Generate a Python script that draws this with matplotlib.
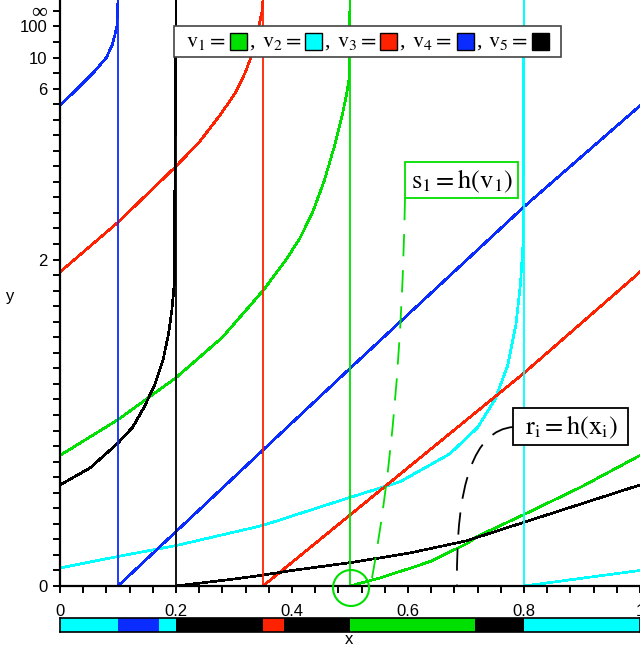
import numpy as np
import matplotlib.pyplot as plt
import matplotlib.transforms as mtransforms
from matplotlib.patches import Rectangle, Circle, PathPatch
from matplotlib.path import Path

plt.rcParams['mathtext.fontset'] = 'stix'
plt.rcParams['font.family'] = ['Liberation Sans', 'DejaVu Sans']
plt.rcParams['lines.scale_dashes'] = False

W, H = 640, 652

# nodes on the ring [0, 1)
node_x = [0.5, 0.8, 0.35, 0.1, 0.2]
node_colors = ['#00e000', '#00ffff', '#ff2200', '#0a2cff', '#000000']

# y values are in tick steps of the compressed y axis (37 steps = infinity)
TOP = 37.7

# v1 (green)
g_x = [0.5, 0.55, 0.6, 0.64, 0.7, 0.72, 0.8, 0.9, 1.0, 1.0,
       0.0, 0.1, 0.2, 0.28, 0.35, 0.39, 0.414, 0.435, 0.455, 0.474, 0.486, 0.494, 0.498, 0.5]
g_y = [0.0, 0.5, 1.1, 1.6, 2.7, 3.2, 4.6, 6.4, 8.4, np.nan,
       8.4, 10.7, 13.4, 16.0, 19.0, 21.0, 22.4, 24.0, 26.0, 28.4, 30.2, 31.6, 32.5, TOP]
# v2 (cyan)
c_x = [0.8, 0.9, 1.0, 1.0,
       0.0, 0.1, 0.2, 0.35, 0.5, 0.586, 0.672, 0.72, 0.75, 0.772, 0.786, 0.794, 0.798, 0.8]
c_y = [0.0, 0.5, 1.0, np.nan,
       1.16, 1.9, 2.6, 3.9, 5.7, 6.7, 8.5, 10.2, 12.0, 14.2, 16.8, 19.5, 21.8, TOP]
# v3 (red)
r_x = [0.35, 0.8, 1.0, 1.0,
       0.0, 0.1, 0.2, 0.241, 0.276, 0.302, 0.319, 0.333, 0.341, 0.348, 0.35]
r_y = [0.0, 13.7, 20.2, np.nan,
       20.2, 23.4, 27.0, 28.6, 30.3, 31.7, 33.0, 34.4, 35.7, 36.9, TOP]
# v4 (blue)
b_x = [0.1, 0.5, 0.8, 1.0, 1.0, 0.0, 0.057, 0.08, 0.09, 0.095, 0.098, 0.1]
b_y = [0.0, 14.0, 24.4, 30.9, np.nan, 30.9, 33.0, 34.0, 34.8, 35.5, 36.0, TOP]
# v5 (black)
k_x = [0.2, 0.3, 0.35, 0.4, 0.5, 0.6, 0.7, 0.8, 0.9, 1.0, 1.0,
       0.0, 0.052, 0.1, 0.125, 0.145, 0.164, 0.178, 0.187, 0.193, 0.197, 0.2]
k_y = [0.0, 0.45, 0.7, 1.0, 1.5, 2.1, 2.9, 4.1, 5.3, 6.5, np.nan,
       6.5, 7.6, 9.2, 10.2, 11.5, 13.0, 14.6, 16.2, 17.8, 19.4, TOP]

curves_x = [g_x, c_x, r_x, b_x, k_x]
curves_y = [g_y, c_y, r_y, b_y, k_y]

y_tick_pos = [0, 21, 32, 34, 36, 37]
y_tick_text = ['0', '2', '6', '10', '100', '\u221e']
x_tick_pos = [0, 0.2, 0.4, 0.6, 0.8, 1.0]
x_tick_text = ['0', '0.2', '0.4', '0.6', '0.8', '1']

# owner of each segment of the ring (index into nodes)
seg_start = [0.0, 0.1, 0.17, 0.2, 0.35, 0.387, 0.5, 0.716, 0.8]
seg_owner = [1, 3, 1, 4, 2, 4, 0, 4, 1]

fig = plt.figure(figsize=(W / 100, H / 100), dpi=100)
pix = mtransforms.Affine2D().scale(1 / W, -1 / H).translate(0, 1) + fig.transFigure

ax = fig.add_axes([60 / W, 66 / H, 1 - 60 / W, 586 / H])
for xs, ys, col in zip(curves_x, curves_y, node_colors):
    ax.plot(xs, ys, color=col, lw=1.2, antialiased=False)
for xv, col in zip(node_x, node_colors):
    ax.axvline(xv, color=col, lw=1.3)

ax.set_xlim(0, 1)
ax.set_ylim(0, TOP)
for s in ['top', 'right']:
    ax.spines[s].set_visible(False)
for s in ['left', 'bottom']:
    ax.spines[s].set_linewidth(1.6)

xt = np.arange(26) * 0.04
ax.set_xticks(xt)
ax.set_xticklabels([x_tick_text[x_tick_pos.index(round(t, 2))] if round(t, 2) in x_tick_pos else ''
                    for t in xt])
ax.set_yticks(np.arange(38))
ax.set_yticklabels([y_tick_text[y_tick_pos.index(t)] if t in y_tick_pos else '' for t in range(38)])
ax.tick_params(axis='x', length=5, width=1.4, pad=8, labelsize=12)
ax.tick_params(axis='y', length=5, width=1.4, pad=4, labelsize=12)
for lab in ax.get_yticklabels():
    if lab.get_text() == '\u221e':
        lab.set_fontfamily(['Liberation Serif', 'DejaVu Serif'])
        lab.set_fontsize(16)

# ownership bar
bx = fig.add_axes([60 / W, 20 / H, 1 - 60 / W, 14 / H])
seg_end = seg_start[1:] + [1.0]
for a, b, o in zip(seg_start, seg_end, seg_owner):
    bx.barh(0, b - a, left=a, height=1, color=node_colors[o], lw=0)
bx.set_xlim(0, 1)
bx.set_ylim(-0.5, 0.5)
bx.set_xticks([])
bx.set_yticks([])
for s in bx.spines.values():
    s.set_linewidth(1.2)

fig.text(349, 640, 'x', transform=pix, ha='center', va='center', fontsize=12)
fig.text(10, 297, 'y', transform=pix, ha='center', va='center', fontsize=12)

# legend box
fig.add_artist(Rectangle((174, 26), 387, 31, transform=pix, fc='white', ec='#444444', lw=1.2))
leg_text_x = [186, 262, 337, 412, 488]
leg_box_x = [230, 305, 380, 457, 532]
for i in range(5):
    fig.text(leg_text_x[i], 47, r'$\mathrm{v}_{%d}=$' % (i + 1), transform=pix,
             ha='left', va='baseline', fontsize=16)
    fig.add_artist(Rectangle((leg_box_x[i], 33), 17, 17, transform=pix,
                             fc=node_colors[i], ec='black', lw=1))
    if i < 4:
        fig.text(leg_box_x[i] + 19, 47, ',', transform=pix, ha='left', va='baseline',
                 fontsize=16, family=['Liberation Serif'])

# annotation s1 = h(v1)
fig.add_artist(Rectangle((405, 162), 113, 36, transform=pix, fc='white', ec='#00e000', lw=1.3))
fig.text(462, 181, r'$\mathrm{s}_1 = \mathrm{h}(\mathrm{v}_1)$', transform=pix,
         ha='center', va='center', fontsize=19)
gpath = Path([(405, 198), (401, 420), (372, 578)], [Path.MOVETO, Path.CURVE3, Path.CURVE3])
fig.add_artist(PathPatch(gpath, transform=pix, fill=False, ec='#00e000', lw=1.3,
                         linestyle=(0, (16, 10))))
fig.add_artist(Circle((351, 588), 18, transform=pix, fill=False, ec='#00e000', lw=1.5))

# annotation ri = h(xi)
fig.add_artist(Rectangle((513, 408), 115, 37, transform=pix, fc='white', ec='black', lw=1.3))
fig.text(571, 427, r'$\mathrm{r}_\mathrm{i} = \mathrm{h}(\mathrm{x}_\mathrm{i})$', transform=pix,
         ha='center', va='center', fontsize=19)
kpath = Path([(513, 427), (455, 432), (457, 585)], [Path.MOVETO, Path.CURVE3, Path.CURVE3])
fig.add_artist(PathPatch(kpath, transform=pix, fill=False, ec='black', lw=1.3,
                         linestyle=(0, (16, 10))))

fig.savefig('out.png', dpi=100)
